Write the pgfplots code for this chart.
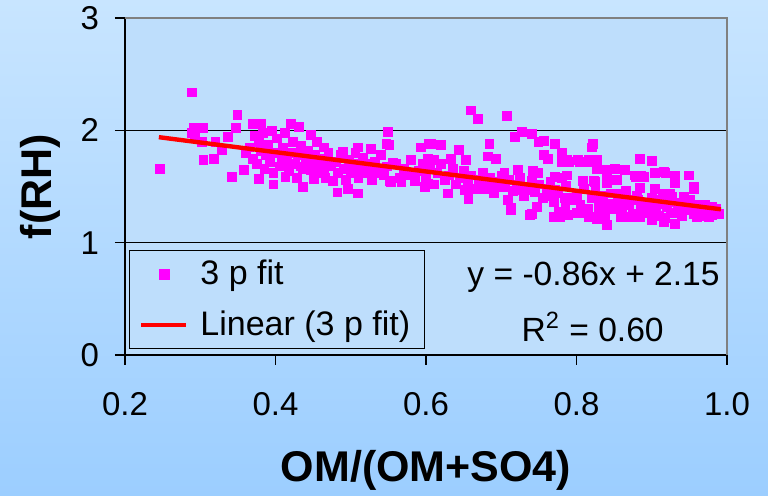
\documentclass[border=0pt]{standalone}
\usepackage{pgfplots}
\pgfplotsset{compat=1.18}
\usepackage{pgfplotstable}
\usepackage{fontspec}
\setmainfont{Liberation Sans}
\definecolor{bgtop}{RGB}{200,229,255}
\definecolor{bgbot}{RGB}{156,206,255}
\definecolor{plotbg}{RGB}{190,222,252}
\definecolor{mag}{RGB}{255,0,255}
\definecolor{fitred}{RGB}{255,0,0}

\pgfplotstableread{
x y
0.246 1.66
0.289 2.34
0.291 2.02
0.304 2.02
0.288 1.98
0.293 1.94
0.302 1.90
0.304 1.74
0.318 1.75
0.320 1.90
0.329 1.83
0.342 1.59
0.347 2.02
0.349 2.14
0.336 1.94
0.358 1.65
0.378 1.57
0.397 1.52
0.369 2.06
0.380 2.06
0.360 1.80
0.365 1.85
0.370 1.75
0.372 1.95
0.375 1.70
0.378 1.90
0.380 1.82
0.383 1.98
0.385 1.66
0.387 1.78
0.390 1.87
0.392 1.72
0.395 2.00
0.397 1.62
0.400 1.80
0.402 1.93
0.405 1.68
0.408 1.76
0.410 1.85
0.412 1.98
0.413 1.59
0.415 1.72
0.418 1.64
0.420 2.06
0.420 1.80
0.423 1.90
0.425 1.70
0.428 1.58
0.431 2.03
0.430 1.78
0.433 1.86
0.433 1.68
0.436 1.50
0.436 1.66
0.440 1.74
0.443 1.82
0.447 1.96
0.447 1.65
0.450 1.70
0.451 1.57
0.452 1.78
0.455 1.90
0.460 1.66
0.463 1.75
0.464 1.85
0.464 1.62
0.466 1.58
0.469 1.71
0.470 1.80
0.473 1.68
0.476 1.55
0.480 1.72
0.482 1.45
0.483 1.62
0.486 1.78
0.489 1.81
0.490 1.66
0.493 1.56
0.496 1.48
0.497 1.74
0.500 1.62
0.503 1.70
0.504 1.65
0.506 1.80
0.509 1.85
0.509 1.44
0.510 1.58
0.513 1.66
0.516 1.76
0.520 1.62
0.524 1.70
0.527 1.84
0.528 1.56
0.532 1.72
0.533 1.62
0.536 1.64
0.540 1.78
0.544 1.60
0.547 1.88
0.548 1.68
0.549 1.99
0.551 1.87
0.552 1.55
0.553 1.54
0.556 1.71
0.560 1.70
0.565 1.58
0.567 1.54
0.570 1.66
0.575 1.60
0.580 1.74
0.584 1.62
0.585 1.55
0.590 1.64
0.593 1.85
0.595 1.70
0.598 1.50
0.600 1.58
0.602 1.75
0.602 1.53
0.604 1.88
0.605 1.66
0.607 1.88
0.610 1.52
0.611 1.74
0.615 1.62
0.620 1.87
0.620 1.70
0.625 1.56
0.629 1.44
0.630 1.60
0.633 1.75
0.635 1.66
0.640 1.52
0.644 1.83
0.645 1.58
0.650 1.64
0.651 1.47
0.653 1.74
0.655 1.54
0.656 1.39
0.659 2.18
0.660 1.60
0.665 1.48
0.669 2.10
0.670 1.56
0.675 1.62
0.678 1.48
0.680 1.52
0.682 1.77
0.684 1.88
0.685 1.58
0.690 1.44
0.693 1.75
0.693 1.50
0.695 1.54
0.700 1.60
0.704 1.62
0.705 1.50
0.707 2.13
0.709 1.38
0.710 1.56
0.713 1.31
0.713 1.29
0.715 1.46
0.718 1.94
0.720 1.52
0.722 1.65
0.725 1.58
0.727 1.99
0.727 1.47
0.730 1.42
0.735 1.50
0.738 1.25
0.740 1.97
0.740 1.55
0.740 1.26
0.742 1.64
0.742 1.47
0.745 1.45
0.747 1.32
0.749 1.90
0.749 1.62
0.750 1.52
0.755 1.40
0.756 1.91
0.756 1.78
0.760 1.48
0.762 1.75
0.762 1.42
0.765 1.54
0.769 1.23
0.770 1.36
0.771 1.88
0.771 1.59
0.771 1.47
0.775 1.44
0.776 1.28
0.778 1.23
0.780 1.80
0.780 1.72
0.780 1.58
0.784 1.40
0.785 1.32
0.786 1.51
0.787 1.74
0.787 1.60
0.789 1.25
0.790 1.72
0.791 1.40
0.795 1.38
0.800 1.42
0.800 1.27
0.802 1.74
0.804 1.72
0.805 1.34
0.808 1.55
0.810 1.48
0.813 1.27
0.815 1.72
0.815 1.30
0.816 1.74
0.816 1.23
0.820 1.85
0.820 1.40
0.822 1.88
0.823 1.55
0.824 1.54
0.825 1.46
0.827 1.74
0.827 1.66
0.827 1.21
0.829 1.35
0.830 1.28
0.833 1.38
0.835 1.42
0.838 1.24
0.840 1.65
0.840 1.56
0.840 1.53
0.840 1.32
0.840 1.16
0.844 1.35
0.845 1.44
0.850 1.30
0.851 1.66
0.853 1.56
0.855 1.38
0.858 1.44
0.858 1.23
0.860 1.28
0.860 1.24
0.862 1.35
0.864 1.65
0.865 1.46
0.869 1.38
0.870 1.34
0.871 1.23
0.875 1.26
0.877 1.60
0.878 1.59
0.880 1.42
0.880 1.38
0.882 1.38
0.884 1.75
0.884 1.49
0.884 1.23
0.885 1.30
0.886 1.60
0.887 1.27
0.889 1.59
0.890 1.36
0.895 1.28
0.900 1.73
0.900 1.40
0.900 1.35
0.900 1.24
0.900 1.20
0.904 1.62
0.904 1.48
0.905 1.30
0.910 1.24
0.913 1.38
0.915 1.44
0.916 1.63
0.916 1.35
0.916 1.19
0.918 1.62
0.918 1.22
0.920 1.32
0.924 1.44
0.925 1.27
0.927 1.41
0.930 1.36
0.931 1.60
0.931 1.53
0.931 1.17
0.935 1.30
0.938 1.27
0.940 1.24
0.942 1.41
0.942 1.35
0.945 1.32
0.949 1.60
0.949 1.29
0.950 1.38
0.953 1.32
0.955 1.26
0.956 1.48
0.956 1.50
0.960 1.30
0.960 1.23
0.964 1.34
0.964 1.29
0.965 1.24
0.967 1.27
0.970 1.34
0.975 1.28
0.976 1.23
0.978 1.27
0.980 1.32
0.980 1.25
0.985 1.30
0.989 1.26
}\scatterdata

\begin{document}
\begin{tikzpicture}
\shade[top color=bgtop, bottom color=bgbot] (-62.5pt,-70.5pt) rectangle (321.5pt,177.5pt);
\begin{axis}[
  at={(0,0)}, anchor=south west,
  scale only axis, width=301pt, height=168.5pt,
  clip mode=individual,
  xmin=0.2, xmax=1.0, ymin=0, ymax=3,
  xtick={0.2,0.4,0.6,0.8,1.0},
  xticklabels={0.2,0.4,0.6,0.8,1.0},
  ytick={0,1,2,3},
  axis x line*=bottom, axis y line*=left,
  axis line style={black, line width=0.6pt},
  tick style={black, line width=0.6pt},
  tick align=outside, major tick length=5pt,
  ymajorgrids, grid style={black, line width=0.5pt},
  axis background/.style={fill=plotbg},
  /pgf/number format/assume math mode=true,
  tick label style={font=\fontsize{16.5}{19}\selectfont},
  yticklabel style={xshift=-4.5pt},
  xticklabel style={yshift=-10pt},
  xlabel={\textbf{OM/(OM+SO4)}},
  ylabel={\textbf{f(RH)}},
  every axis x label/.style={at={(rel axis cs:0.5,0)}, yshift=-57.5pt, anchor=center, font=\fontsize{21.5}{24}\selectfont},
  every axis y label/.style={at={(rel axis cs:0,0.5)}, xshift=-42.5pt, rotate=90, anchor=center, font=\fontsize{21.5}{24}\selectfont},
  legend style={at={(0.0066,0.0178)}, anchor=south west, fill=plotbg, draw=black, line width=0.5pt,
    font=\fontsize{17}{19}\selectfont, row sep=7.5pt, inner xsep=5pt, inner ysep=3pt},
  legend cell align=left,
  legend image code/.code={\path (0pt,0pt) (26.5pt,0pt); \draw[mark repeat=2,mark phase=2,#1] plot coordinates {(0pt,0pt) (11.25pt,0pt) (22.5pt,0pt)};},
  extra description/.code={
    \draw[gray, line width=1pt] (rel axis cs:0,1) -- (rel axis cs:1,1) -- (rel axis cs:1,0);
    \node[font=\fontsize{16.8}{19}\selectfont] at (axis cs:0.8227,0.694) {y = -0.86x + 2.15};
    \node[font=\fontsize{16.8}{19}\selectfont] at (axis cs:0.8215,0.25) {R\textsuperscript{2} = 0.60};
  },
]
\addplot[forget plot, mag, only marks, mark=square*, mark size=2.2pt, mark options={draw=mag, fill=mag, line width=0.2pt}]
  table[x=x, y=y] {\scatterdata};
\addplot[forget plot, fitred, line width=2.2pt, no marks]
  coordinates {(0.245,1.939) (0.992,1.297)};
\addlegendimage{mag, only marks, mark=square*, mark size=2.5pt, mark options={draw=mag, fill=mag, line width=0.2pt}}
\addlegendentry{3 p fit}
\addlegendimage{fitred, line width=2pt, no marks}
\addlegendentry{Linear (3 p fit)}
\end{axis}
\pgfresetboundingbox
\path (-62.5pt,-70.5pt) rectangle (321.5pt,177.5pt);
\end{tikzpicture}
\end{document}
